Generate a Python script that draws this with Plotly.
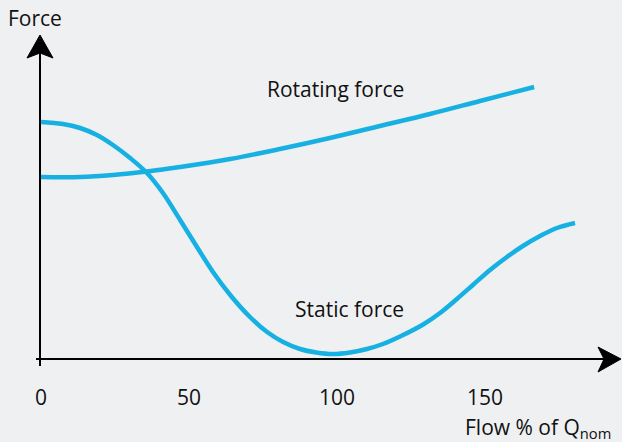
import plotly.graph_objects as go

# Data (flow % of Q_nom, relative force)
static_x = [0, 7.4, 13.2, 18.9, 24.3, 30.1, 35.8, 41.2, 47.0, 52.7, 58.1, 64.2, 70.6, 76.4, 81.8,
            87.5, 93.0, 98.6, 104.4, 110.1, 115.5, 121.3, 129.1, 134.8, 140.5, 145.9, 151.7, 157.4,
            162.8, 168.6, 174.3, 180.4]
static_y = [237, 235, 231, 224, 214, 201, 186, 166, 139, 112, 87, 63, 42, 27, 17,
            10, 6.5, 5, 6.5, 10, 15, 22.5, 34.5, 46, 60, 74, 89, 102,
            113, 123, 131, 136]
rot_x = [0, 13.2, 24.3, 35.8, 47.0, 63.9, 80.7, 97.6, 114.5, 131.4, 148.3, 166.6]
rot_y = [182, 182, 184, 187.5, 192, 200, 210, 221, 233, 245, 258, 272]
tick_vals = [0, 50, 100, 150]
tick_text = ["0", "50", "100", "150"]

W, H = 622, 442
X0PX, XSCALE = 41, 2.96  # px of x=0, px per unit
Y0PX = 359               # px of y=0, 1 unit per px

def dx(px):
    return (px - X0PX) / XSCALE

def dy(py):
    return Y0PX - py

LINE = "#16b1e2"
BG = "#eff0f1"
FONT = "Open Sans, Noto Sans, sans-serif"
FS = 21

fig = go.Figure()
for xs, ys in ((rot_x, rot_y), (static_x, static_y)):
    fig.add_trace(go.Scatter(x=xs, y=ys, mode="lines",
                             line=dict(color=LINE, width=4.5, shape="spline", smoothing=1.0),
                             hoverinfo="skip"))

shapes = []
shapes.append(dict(type="line", xref="x", yref="y", x0=dx(36), y0=0, x1=dx(605), y1=0,
                   line=dict(color="black", width=2)))
shapes.append(dict(type="line", xref="x", yref="y", x0=dx(40), y0=dy(366), x1=dx(40), y1=dy(52),
                   line=dict(color="black", width=2)))

def path(pts):
    return "M " + " L ".join(f"{dx(a):.3f},{dy(b):.3f}" for a, b in pts) + " Z"

shapes.append(dict(type="path", xref="x", yref="y",
                   path=path([(621, 359), (598, 347), (604, 359), (598, 372)]),
                   fillcolor="black", line=dict(color="black", width=1)))
shapes.append(dict(type="path", xref="x", yref="y",
                   path=path([(40, 35), (27, 58), (40, 53), (53, 58)]),
                   fillcolor="black", line=dict(color="black", width=1)))

def txt(x, y, t, **kw):
    d = dict(x=x, y=y, xref="x", yref="y", text=t, showarrow=False,
             font=dict(size=FS, color="#111", family=FONT))
    d.update(kw)
    return d

annotations = [txt(v, dy(397), t) for v, t in zip(tick_vals, tick_text)]
annotations.append(txt(dx(35), dy(18), "Force"))
annotations.append(txt(dx(335), dy(89), "Rotating force"))
annotations.append(txt(dx(349), dy(309), "Static force"))
annotations.append(txt(dx(463), dy(428), "Flow % of Q<sub>nom</sub>", xanchor="left"))

fig.update_layout(
    width=W, height=H,
    margin=dict(l=0, r=0, t=0, b=0),
    paper_bgcolor=BG, plot_bgcolor=BG,
    showlegend=False,
    xaxis=dict(range=[dx(0), dx(W)], visible=False, fixedrange=True),
    yaxis=dict(range=[dy(H), dy(0)], visible=False, fixedrange=True),
    shapes=shapes, annotations=annotations,
)

fig.write_html("out.html", config={"displayModeBar": False},
               post_script="document.body.style.margin='0';document.body.style.background='%s';" % BG)
